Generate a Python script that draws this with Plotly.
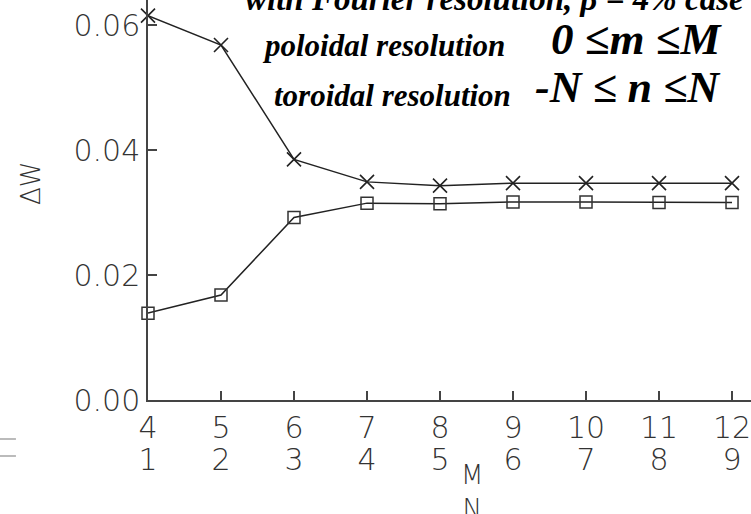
import plotly.graph_objects as go

# resolution steps: poloidal M and toroidal N
M_vals = [4, 5, 6, 7, 8, 9, 10, 11, 12]
N_vals = [1, 2, 3, 4, 5, 6, 7, 8, 9]

# delta W for the two cases
dw_cross = [0.0615, 0.0568, 0.0385, 0.0349, 0.0343, 0.0347, 0.0347, 0.0347, 0.0347]
dw_square = [0.0139, 0.0168, 0.0292, 0.0315, 0.0314, 0.0317, 0.0317, 0.0316, 0.0316]

y_ticks = [0.0, 0.02, 0.04, 0.06]

tick_font = dict(family="DejaVu Sans", size=30, color="#333333", weight=200)
serif = "Liberation Serif"

fig = go.Figure()
fig.add_trace(go.Scatter(x=M_vals, y=dw_cross, mode="lines+markers",
                         line=dict(color="#222222", width=1.5),
                         marker=dict(symbol="x-thin", size=14, line=dict(width=1.6, color="#222222")),
                         cliponaxis=False, showlegend=False))
fig.add_trace(go.Scatter(x=M_vals, y=dw_square, mode="lines+markers",
                         line=dict(color="#222222", width=1.5),
                         marker=dict(symbol="square-open", size=12, color="#333333", line=dict(width=1.5)),
                         cliponaxis=False, showlegend=False))
# invisible trace to hold the second row of x labels
fig.add_trace(go.Scatter(x=M_vals, y=dw_square, xaxis="x2", mode="markers",
                         marker=dict(opacity=0), hoverinfo="skip", showlegend=False))

fig.update_layout(
    width=751, height=514,
    margin=dict(l=148, r=0, t=0, b=114),
    paper_bgcolor="white", plot_bgcolor="white",
    xaxis=dict(range=[4, 12.26], tickvals=M_vals, ticktext=[str(v) for v in M_vals],
               ticks="inside", ticklen=9, tickwidth=1.5, tickcolor="#444444",
               showline=True, linecolor="#444444", linewidth=1.5,
               showgrid=False, zeroline=False, tickfont=tick_font,
               ticklabelstandoff=0, ticklabeloverflow="allow", automargin=False),
    xaxis2=dict(range=[4, 12.26], overlaying="x", anchor="y", side="bottom",
                tickvals=M_vals, ticktext=[str(v) for v in N_vals],
                ticks="", showline=False, showgrid=False, zeroline=False,
                tickfont=tick_font, ticklabelstandoff=39, ticklabeloverflow="allow",
                automargin=False),
    yaxis=dict(range=[0, 0.064], tickvals=y_ticks, tickformat=".2f",
               ticks="inside", ticklen=9, tickwidth=1.5, tickcolor="#444444",
               showline=True, linecolor="#444444", linewidth=1.5,
               showgrid=False, zeroline=False, tickfont=tick_font,
               ticklabelstandoff=0, automargin=False),
)

mid = dict(xanchor="center", yanchor="middle", showarrow=False)
right = dict(xanchor="right", yanchor="middle", showarrow=False)
ann = []
ann.append(dict(text="ΔW", xref="paper", yref="paper", x=-0.194, y=0.5425, textangle=-90,
                font=dict(family="DejaVu Sans", size=26, color="#333333", weight=200), **mid))
ann.append(dict(text="M<br>N", xref="paper", yref="paper", x=0.537, y=-0.145, yanchor="top",
                xanchor="center", showarrow=False,
                font=dict(family="DejaVu Sans", size=26, color="#333333", weight=200)))
ann.append(dict(text="<b><i>with Fourier resolution, β = 4% case</i></b>", xref="paper", yref="paper",
                x=0.574, y=1.003, font=dict(family=serif, size=33, color="black"), **mid))
ann.append(dict(text="<b><i>poloidal resolution</i></b>", xref="paper", yref="paper",
                x=0.39, y=0.8875, font=dict(family=serif, size=31, color="black"), **mid))
ann.append(dict(text="<b><i>0 ≤m ≤M</i></b>", xref="paper", yref="paper",
                x=0.955, y=0.9025, font=dict(family=serif, size=45, color="black"), **right))
ann.append(dict(text="<b><i>toroidal resolution</i></b>", xref="paper", yref="paper",
                x=0.406, y=0.7625, font=dict(family=serif, size=31, color="black"), **mid))
ann.append(dict(text="<b><i>-N ≤ n ≤N</i></b>", xref="paper", yref="paper",
                x=0.954, y=0.78, font=dict(family=serif, size=44, color="black"), **right))
fig.update_layout(annotations=ann)

# stray marks at the left edge
for yp in [-0.0975, -0.14]:
    fig.add_shape(type="line", xref="paper", yref="paper", x0=-0.2454, x1=-0.219, y0=yp, y1=yp,
                  line=dict(color="#bbbbbb", width=2))

fig.write_html("out.html", config={"displayModeBar": False},
               post_script="document.body.style.margin='0';")
